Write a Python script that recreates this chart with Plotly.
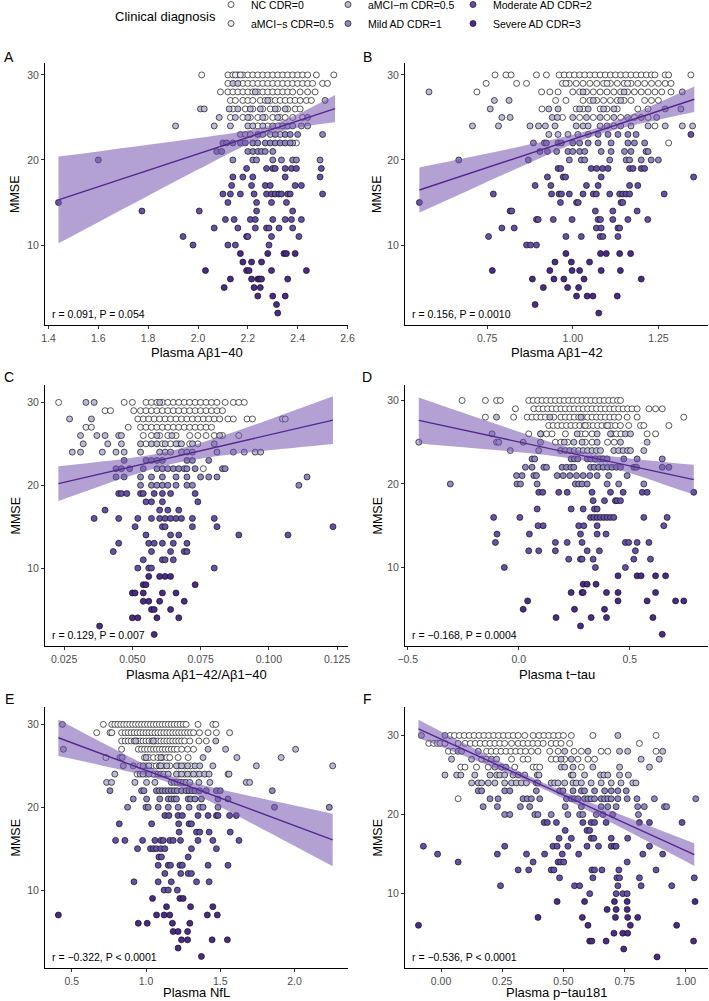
import plotly.graph_objects as go

FONT = "Liberation Sans, Arial, Helvetica, sans-serif"

GROUPS = ["NC CDR=0", "aMCI−s CDR=0.5", "aMCI−m CDR=0.5",
          "Mild AD CDR=1", "Moderate AD CDR=2", "Severe AD CDR=3"]
COLORS = ["#ffffff", "#ecebf4", "#bcbad9", "#8f86c2", "#6650a6", "#4b2a88"]
LEGEND_OF = ["legend", "legend", "legend2", "legend2", "legend3", "legend3"]

# rows: (MMSE, group index, [x values])
rows_A = [
    (30, 0, [2.015, 2.12, 2.14, 2.16, 2.18, 2.20, 2.22, 2.24, 2.26, 2.28, 2.30, 2.32, 2.34, 2.36, 2.38, 2.40, 2.42, 2.44, 2.475, 2.545]),
    (30, 1, [2.15, 2.17]),
    (29, 0, [2.12, 2.18, 2.20, 2.22, 2.24, 2.26, 2.28, 2.30, 2.32, 2.34, 2.36, 2.38, 2.40, 2.42, 2.44, 2.46, 2.50, 2.52]),
    (29, 2, [2.14, 2.16]),
    (28, 0, [2.09, 2.12, 2.14, 2.16, 2.18, 2.20, 2.22, 2.24, 2.26, 2.28, 2.30, 2.32, 2.34, 2.36, 2.38, 2.41, 2.44, 2.47]),
    (28, 2, [2.23]),
    (27, 0, [2.13, 2.15, 2.18, 2.20, 2.22, 2.25, 2.27, 2.29, 2.31, 2.33, 2.35, 2.37, 2.39, 2.41, 2.435, 2.455]),
    (27, 2, [2.51, 2.28]),
    (26, 0, [2.14, 2.19, 2.22, 2.26, 2.29, 2.32, 2.36, 2.39, 2.41]),
    (26, 2, [2.01, 2.025, 2.125, 2.16, 2.21, 2.25, 2.31, 2.35]),
    (25, 0, [2.13, 2.18, 2.21, 2.24, 2.27, 2.30, 2.33, 2.35, 2.38, 2.42]),
    (25, 2, [2.085, 2.15, 2.20, 2.26, 2.32, 2.44]),
    (24, 0, [2.24, 2.28, 2.32]),
    (24, 2, [1.91, 2.065, 2.13, 2.20, 2.22, 2.26, 2.30, 2.34, 2.36, 2.38, 2.415, 2.44]),
    (23, 2, [2.17, 2.19, 2.21, 2.26, 2.29, 2.33]),
    (23, 3, [2.24, 2.31, 2.35, 2.37, 2.40, 2.50]),
    (22, 3, [2.10, 2.115, 2.14, 2.17, 2.19, 2.22, 2.24, 2.27, 2.29, 2.31, 2.33, 2.35, 2.37]),
    (22, 0, [2.395]),
    (22, 2, [2.38]),
    (21, 3, [2.075, 2.095, 2.20, 2.22, 2.24, 2.255, 2.27, 2.30]),
    (20, 3, [1.60, 2.14, 2.22, 2.235, 2.30, 2.335, 2.38, 2.395, 2.49]),
    (19, 4, [2.195, 2.275, 2.30, 2.31, 2.35, 2.375, 2.395, 2.495]),
    (18, 4, [2.14, 2.18, 2.22, 2.35, 2.49]),
    (17, 4, [2.135, 2.215, 2.27, 2.29, 2.39, 2.415]),
    (16, 4, [2.10, 2.13, 2.17, 2.225, 2.275, 2.295, 2.31, 2.325, 2.335, 2.36, 2.37, 2.50]),
    (15, 4, [1.44, 2.12, 2.235, 2.295, 2.355]),
    (14, 4, [1.775, 2.005, 2.235, 2.38]),
    (13, 4, [2.11, 2.145, 2.21, 2.23, 2.30, 2.35, 2.375, 2.415]),
    (12, 4, [2.065, 2.16, 2.23, 2.275, 2.285, 2.325, 2.38]),
    (11, 4, [1.94, 2.195, 2.20, 2.295, 2.405]),
    (10, 4, [1.98, 2.12, 2.15, 2.285]),
    (9, 5, [2.17, 2.28, 2.345, 2.355, 2.39]),
    (8, 5, [2.18, 2.215, 2.255]),
    (7, 5, [2.03, 2.195, 2.205, 2.295, 2.435]),
    (6, 5, [2.13, 2.215, 2.24, 2.247, 2.255, 2.36]),
    (5, 5, [2.105, 2.225, 2.25]),
    (4, 5, [2.24, 2.30, 2.35]),
    (3, 5, [2.315]),
    (2, 5, [2.32]),
]

rows_B = [
    (30, 0, [0.773, 0.805, 0.82, 0.894, 0.923, 0.96, 0.975, 0.99, 1.005, 1.02, 1.035, 1.05, 1.065, 1.08, 1.095, 1.11, 1.125, 1.14, 1.155, 1.17, 1.185, 1.20, 1.215, 1.23, 1.24, 1.27, 1.28, 1.345]),
    (29, 0, [0.747, 0.836, 0.865, 0.97, 0.99, 1.01, 1.03, 1.05, 1.07, 1.09, 1.11, 1.13, 1.15, 1.17, 1.19, 1.21, 1.23, 1.25, 1.27, 1.287]),
    (29, 1, [0.98, 1.10, 1.16]),
    (28, 0, [0.72, 0.909, 0.933, 0.957, 1.0, 1.02, 1.04, 1.06, 1.08, 1.10, 1.12, 1.14, 1.16, 1.18, 1.20, 1.22, 1.24, 1.26, 1.287]),
    (28, 2, [0.58, 1.32, 1.03, 1.15]),
    (27, 0, [0.95, 0.98, 1.03, 1.05, 1.07, 1.09, 1.11, 1.13, 1.15, 1.17, 1.21, 1.23, 1.25]),
    (27, 2, [0.771, 0.814, 1.06, 1.14]),
    (26, 0, [0.91, 1.01, 1.03, 1.08, 1.10, 1.13, 1.19, 1.22]),
    (26, 2, [0.759, 0.93, 0.957, 1.02, 1.045, 1.09, 1.12, 1.27, 1.316]),
    (25, 0, [0.97, 1.02, 1.06, 1.10, 1.14, 1.18, 1.22]),
    (25, 2, [0.793, 0.817, 0.94, 0.955, 1.0, 1.04, 1.08, 1.12, 1.16, 1.20, 1.245]),
    (24, 0, [1.24, 1.12]),
    (24, 2, [0.707, 0.783, 0.875, 0.90, 0.92, 0.948, 1.01, 1.03, 1.045, 1.08, 1.10, 1.14, 1.17, 1.22, 1.27, 1.32, 1.35]),
    (23, 2, [0.93, 0.957, 0.986, 1.015, 1.045]),
    (23, 3, [1.074, 1.103, 1.132, 1.161, 1.185]),
    (23, 4, [1.345]),
    (22, 3, [0.885, 0.917, 0.923, 0.957, 0.967, 1.0, 1.02, 1.045, 1.074, 1.112, 1.161, 1.18, 1.21]),
    (22, 0, [1.28]),
    (21, 3, [0.904, 0.926, 0.953, 0.986, 1.0, 1.02, 1.035, 1.083, 1.112, 1.151, 1.17, 1.214, 1.22]),
    (20, 3, [0.667, 0.87, 0.99, 1.025, 1.035, 1.108, 1.156, 1.166, 1.20, 1.229, 1.25]),
    (19, 4, [0.957, 0.965, 1.054, 1.07, 1.087, 1.103, 1.166, 1.176, 1.20, 1.21]),
    (18, 4, [0.926, 0.972, 0.979, 1.083, 1.353]),
    (17, 4, [0.89, 0.936, 1.04, 1.074, 1.166, 1.19]),
    (16, 4, [0.768, 0.938, 0.96, 0.967, 0.99, 1.03, 1.06, 1.069, 1.108, 1.137, 1.146, 1.156, 1.166, 1.267]),
    (15, 4, [0.552, 0.964, 1.011, 1.016, 1.141, 1.146]),
    (14, 4, [0.817, 0.822, 1.066, 1.117, 1.188]),
    (13, 4, [0.894, 0.899, 0.943, 0.998, 1.074, 1.081, 1.117, 1.161, 1.219]),
    (12, 4, [0.793, 0.829, 1.069, 1.083, 1.132, 1.137]),
    (11, 4, [0.754, 0.98, 1.025, 1.08, 1.088, 1.132]),
    (10, 4, [0.865, 0.877, 0.894]),
    (9, 5, [0.98, 1.081, 1.098, 1.137, 1.169]),
    (8, 5, [0.948, 0.996, 1.049]),
    (7, 5, [0.765, 0.933, 0.998, 1.02, 1.083, 1.139]),
    (6, 5, [0.882, 0.945, 0.974, 1.033, 1.20]),
    (5, 5, [0.914, 0.985, 1.017]),
    (4, 5, [1.011, 1.042, 1.059, 1.13]),
    (3, 5, [0.89]),
    (2, 5, [1.076]),
]

rows_C = [
    (30, 0, [0.023, 0.047, 0.050, 0.055, 0.057, 0.059, 0.061, 0.063, 0.065, 0.067, 0.069, 0.071, 0.073, 0.075, 0.077, 0.079, 0.081, 0.084, 0.087, 0.089, 0.091]),
    (30, 2, [0.033, 0.036, 0.06]),
    (29, 0, [0.040, 0.042, 0.0505, 0.053, 0.055, 0.057, 0.059, 0.061, 0.063, 0.065, 0.067, 0.069, 0.071, 0.073, 0.075, 0.077, 0.079, 0.081, 0.083]),
    (28, 0, [0.052, 0.054, 0.056, 0.058, 0.060, 0.062, 0.064, 0.066, 0.068, 0.070, 0.072, 0.074, 0.076, 0.078, 0.080, 0.082, 0.085, 0.087, 0.092, 0.094, 0.105, 0.106]),
    (28, 2, [0.027, 0.035]),
    (27, 0, [0.0485, 0.053, 0.055, 0.057, 0.059, 0.061, 0.063, 0.065, 0.067, 0.069, 0.071, 0.073, 0.075, 0.077, 0.079]),
    (27, 1, [0.033, 0.035]),
    (26, 0, [0.054, 0.057, 0.060, 0.063, 0.066, 0.071, 0.074, 0.077, 0.080, 0.083, 0.089]),
    (26, 2, [0.031, 0.037, 0.040, 0.045, 0.046, 0.059, 0.0645, 0.082]),
    (25, 0, [0.055, 0.061, 0.064, 0.067, 0.071, 0.074]),
    (25, 2, [0.032, 0.041, 0.046, 0.053, 0.057, 0.059, 0.062, 0.066, 0.068, 0.072, 0.080]),
    (24, 2, [0.028, 0.031, 0.039, 0.044, 0.047, 0.053, 0.060, 0.062, 0.064, 0.068, 0.070, 0.072, 0.081, 0.087, 0.091, 0.095, 0.097]),
    (23, 3, [0.047, 0.055, 0.057, 0.059, 0.061, 0.070, 0.072, 0.078]),
    (22, 3, [0.044, 0.046, 0.049, 0.054, 0.059, 0.061, 0.063, 0.065, 0.067, 0.069, 0.070, 0.073, 0.083, 0.084]),
    (22, 0, [0.076]),
    (21, 3, [0.044, 0.047, 0.053, 0.057, 0.061, 0.066, 0.070, 0.075, 0.078, 0.081, 0.114]),
    (20, 3, [0.053, 0.057, 0.059, 0.061, 0.063, 0.066, 0.070, 0.072, 0.111]),
    (19, 4, [0.045, 0.046, 0.048, 0.053, 0.054, 0.058, 0.061, 0.064, 0.073]),
    (18, 4, [0.055, 0.057, 0.061, 0.074]),
    (17, 4, [0.040, 0.060, 0.063, 0.067]),
    (16, 4, [0.036, 0.045, 0.052, 0.057, 0.060, 0.062, 0.064, 0.066, 0.068, 0.072, 0.080]),
    (15, 4, [0.051, 0.061, 0.062, 0.072, 0.081, 0.1235]),
    (14, 4, [0.055, 0.064, 0.067, 0.089, 0.107]),
    (13, 4, [0.045, 0.056, 0.058, 0.061, 0.065, 0.070]),
    (12, 4, [0.043, 0.057, 0.064, 0.069, 0.070]),
    (11, 4, [0.054, 0.061, 0.062, 0.065]),
    (10, 4, [0.052, 0.056, 0.057, 0.080]),
    (9, 5, [0.056, 0.060, 0.062, 0.064]),
    (8, 5, [0.054, 0.055, 0.073]),
    (7, 5, [0.050, 0.051, 0.054, 0.061, 0.066]),
    (6, 5, [0.054, 0.056, 0.060, 0.069]),
    (5, 5, [0.057, 0.058, 0.064]),
    (4, 5, [0.050, 0.052, 0.059, 0.067]),
    (3, 5, [0.038]),
    (2, 5, [0.058]),
]

rows_D = [
    (30, 0, [-0.255, -0.15, -0.10, -0.083, 0.045, 0.065, 0.085, 0.105, 0.125, 0.145, 0.165, 0.185, 0.205, 0.225, 0.245, 0.265, 0.285, 0.305, 0.325, 0.345, 0.365, 0.385, 0.405, 0.425, 0.445, 0.458]),
    (29, 0, [-0.015, 0.068, 0.09, 0.11, 0.13, 0.15, 0.17, 0.19, 0.21, 0.23, 0.25, 0.27, 0.29, 0.31, 0.33, 0.35, 0.37, 0.39, 0.41, 0.43, 0.45, 0.47, 0.49, 0.51, 0.533, 0.586, 0.616, 0.646]),
    (28, 0, [-0.15, -0.023, 0.038, 0.06, 0.08, 0.10, 0.12, 0.158, 0.19, 0.21, 0.23, 0.25, 0.27, 0.29, 0.31, 0.33, 0.35, 0.37, 0.39, 0.41, 0.43, 0.45, 0.488, 0.533, 0.743]),
    (28, 2, [-0.10, 0.14, 0.28]),
    (27, 0, [0.135, 0.155, 0.175, 0.195, 0.215, 0.235, 0.255, 0.275, 0.295, 0.315, 0.335, 0.355, 0.375, 0.395, 0.415, 0.435, 0.458, 0.495, 0.548, 0.563, 0.676]),
    (27, 1, [0.30, 0.40]),
    (26, 0, [0.045, 0.10, 0.125, 0.15, 0.21, 0.28, 0.30, 0.33, 0.42, 0.44, 0.46, 0.578, 0.616]),
    (26, 2, [-0.12, 0.098, 0.263, 0.353, 0.413, 0.48, 0.503]),
    (25, 0, [0.165, 0.19, 0.22, 0.30, 0.33, 0.40, 0.43]),
    (25, 2, [-0.45, -0.10, -0.09, 0.02, 0.098, 0.205, 0.248, 0.285, 0.353, 0.458, 0.578]),
    (24, 2, [-0.038, 0.09, 0.188, 0.21, 0.23, 0.25, 0.27, 0.29, 0.31, 0.33, 0.35, 0.368, 0.428, 0.45, 0.47, 0.49, 0.503, 0.563]),
    (23, 3, [0.06, 0.072, 0.236, 0.251, 0.266, 0.308, 0.325, 0.345, 0.365, 0.38, 0.398, 0.473, 0.533, 0.646]),
    (22, 3, [0.03, 0.06, 0.113, 0.125, 0.195, 0.215, 0.235, 0.248, 0.323, 0.34, 0.36, 0.38, 0.40, 0.42, 0.44, 0.458, 0.518, 0.53, 0.646, 0.676]),
    (21, 3, [-0.01, 0.015, 0.068, 0.08, 0.173, 0.20, 0.23, 0.26, 0.29, 0.32, 0.353, 0.405, 0.488]),
    (20, 3, [-0.308, -0.008, 0.008, 0.083, 0.255, 0.27, 0.285, 0.308, 0.398, 0.45, 0.563]),
    (19, 4, [0.09, 0.108, 0.18, 0.218, 0.33, 0.413, 0.47, 0.556, 0.578, 0.788]),
    (18, 4, [0.335, 0.386, 0.435, 0.443, 0.458]),
    (17, 4, [0.083, 0.236, 0.29, 0.341, 0.353]),
    (16, 4, [-0.113, 0.005, 0.323, 0.338, 0.353, 0.368, 0.383, 0.398, 0.413, 0.428, 0.563, 0.668]),
    (15, 4, [0.087, 0.11, 0.27, 0.293, 0.353, 0.653]),
    (14, 4, [-0.098, 0.048, 0.278, 0.353, 0.393]),
    (13, 4, [-0.105, 0.165, 0.218, 0.285, 0.48, 0.495, 0.533, 0.586]),
    (12, 4, [0.045, 0.09, 0.165, 0.308, 0.363, 0.525]),
    (11, 4, [0.225, 0.278, 0.285, 0.335, 0.518, 0.593]),
    (10, 4, [-0.065, 0.345, 0.48]),
    (9, 5, [0.447, 0.533, 0.551, 0.616, 0.661]),
    (8, 5, [0.29, 0.308, 0.348]),
    (7, 5, [0.236, 0.285, 0.29, 0.395, 0.447, 0.616]),
    (6, 5, [0.04, 0.447, 0.578, 0.706, 0.743]),
    (5, 5, [0.02, 0.251, 0.386]),
    (4, 5, [0.168, 0.326, 0.395, 0.604]),
    (3, 5, [0.278]),
    (2, 5, [0.646]),
]

rows_E = [
    (30, 0, [0.713, 0.77, 0.79, 0.81, 0.83, 0.85, 0.87, 0.89, 0.91, 0.93, 0.95, 0.97, 0.99, 1.01, 1.03, 1.05, 1.07, 1.09, 1.11, 1.13, 1.15, 1.17, 1.19, 1.21, 1.23, 1.25, 1.27, 1.35, 1.45, 1.47]),
    (30, 2, [0.437]),
    (29, 0, [0.668, 0.836, 0.86, 0.88, 0.90, 0.92, 0.94, 0.96, 0.98, 1.00, 1.02, 1.04, 1.06, 1.08, 1.10, 1.12, 1.14, 1.16, 1.18, 1.20, 1.22, 1.24, 1.26, 1.28, 1.30, 1.32, 1.36, 1.418, 1.474]),
    (29, 1, [0.758, 0.77, 1.563]),
    (28, 0, [0.836, 0.86, 0.88, 0.90, 0.92, 0.94, 0.96, 0.98, 1.00, 1.02, 1.04, 1.06, 1.08, 1.10, 1.12, 1.14, 1.16, 1.18, 1.20, 1.22, 1.24, 1.26, 1.295, 1.356, 1.406]),
    (28, 2, [0.93, 1.05, 1.47]),
    (27, 0, [0.836, 0.948, 0.97, 0.99, 1.01, 1.03, 1.05, 1.07, 1.09, 1.11, 1.13, 1.15, 1.17, 1.19, 1.21, 1.24, 1.28, 1.32]),
    (27, 2, [0.444, 1.418, 1.536, 2.007]),
    (26, 0, [0.73, 0.99, 1.02, 1.05, 1.08, 1.11, 1.14, 1.16, 1.216, 1.284]),
    (26, 2, [0.825, 0.84, 1.00, 1.10, 1.384, 1.612, 1.91]),
    (25, 0, [0.96, 1.00, 1.04, 1.07, 1.12, 1.16, 1.22, 1.26, 1.30]),
    (25, 2, [0.847, 0.914, 0.98, 1.02, 1.09, 1.10, 1.14, 1.205, 1.24, 1.28, 1.33, 1.362, 1.45, 1.743, 2.257]),
    (24, 0, [0.94, 1.00, 1.05, 1.22, 1.26, 1.30, 1.34, 1.552]),
    (24, 2, [0.79, 0.96, 0.98, 1.02, 1.08, 1.10, 1.12, 1.15, 1.205, 1.24, 1.28, 1.32, 1.36, 1.395, 1.425, 1.559]),
    (23, 2, [0.735, 0.768, 0.925, 1.004, 1.06, 1.17, 1.19, 1.21, 1.23, 1.25, 1.27, 1.295, 1.356, 1.43, 1.675, 1.698]),
    (22, 3, [0.757, 0.97, 0.986, 1.07, 1.09, 1.11, 1.13, 1.15, 1.17, 1.19, 1.21, 1.24, 1.27, 1.29, 1.31, 1.33, 1.36, 1.406, 1.474, 1.50, 1.85]),
    (21, 3, [0.914, 1.004, 1.093, 1.15, 1.17, 1.19, 1.205, 1.284, 1.30, 1.33, 1.373, 1.485, 1.552]),
    (20, 3, [0.876, 1.0, 1.015, 1.082, 1.15, 1.216, 1.29, 1.362, 1.384, 1.485, 1.865, 2.234]),
    (19, 4, [1.127, 1.154, 1.216, 1.245, 1.35, 1.418, 1.474, 1.485, 1.563, 1.608]),
    (18, 4, [0.82, 1.038, 1.22, 1.29, 1.306]),
    (17, 4, [1.223, 1.34, 1.362, 1.425, 1.567]),
    (16, 4, [0.795, 0.858, 0.977, 1.06, 1.10, 1.116, 1.16, 1.183, 1.232, 1.35, 1.45, 1.626]),
    (15, 4, [0.943, 1.03, 1.05, 1.07, 1.10, 1.127, 1.306, 1.474]),
    (14, 4, [1.087, 1.104, 1.284]),
    (13, 4, [1.082, 1.15, 1.165, 1.228, 1.245, 1.418, 1.552]),
    (12, 4, [1.127, 1.234, 1.284, 1.306]),
    (11, 4, [0.919, 1.082, 1.17, 1.34, 1.425]),
    (10, 4, [1.122, 1.15, 1.211]),
    (9, 5, [1.044, 1.228, 1.25]),
    (8, 5, [1.138, 1.30, 1.45]),
    (7, 5, [0.41, 1.071, 1.122, 1.16, 1.413, 1.48]),
    (6, 5, [0.948, 1.008, 1.178, 1.295]),
    (5, 5, [1.183, 1.216, 1.28]),
    (4, 5, [1.239, 1.28, 1.445, 1.548]),
    (3, 5, [1.216]),
    (2, 5, [1.373]),
]

rows_F = [
    (30, 0, [0.037, 0.055, 0.075, 0.095, 0.115, 0.135, 0.155, 0.175, 0.195, 0.215, 0.235, 0.255, 0.275, 0.295, 0.315, 0.342, 0.376, 0.40, 0.42, 0.44, 0.46, 0.48, 0.50, 0.532, 0.62, 0.878]),
    (30, 2, [-0.08, 0.016, 0.722]),
    (29, 0, [-0.05, -0.03, -0.015, 0.07, 0.098, 0.12, 0.14, 0.16, 0.18, 0.20, 0.22, 0.24, 0.26, 0.288, 0.315, 0.335, 0.355, 0.375, 0.395, 0.417, 0.45, 0.47, 0.49, 0.525, 0.81]),
    (29, 1, [-0.004, 0.016]),
    (28, 0, [0.03, 0.05, 0.186, 0.205, 0.225, 0.245, 0.265, 0.285, 0.305, 0.325, 0.345, 0.369, 0.396, 0.444, 0.478, 0.543, 0.573, 0.654, 0.681, 0.878]),
    (28, 2, [0.07, 0.084, 0.152, 0.505, 0.60, 0.729, 0.762, 0.905]),
    (27, 0, [0.166, 0.186, 0.288, 0.335, 0.355, 0.45, 0.47, 0.505, 0.559, 0.60, 0.627]),
    (27, 2, [0.043, 0.125, 0.206, 0.227, 0.49, 0.532, 0.817, 0.891]),
    (26, 0, [0.081, 0.098, 0.145, 0.193, 0.301, 0.376, 0.39, 0.403, 0.573]),
    (26, 2, [0.22, 0.247, 0.265, 0.491, 0.505, 0.539, 0.62, 0.729, 0.851]),
    (25, 2, [0.016, 0.064, 0.081, 0.138, 0.20, 0.227, 0.24, 0.26, 0.294, 0.315, 0.342, 0.393, 0.40, 0.532, 0.539, 0.586, 0.651, 0.665, 0.681, 0.729, 0.765]),
    (24, 2, [0.125, 0.152, 0.166, 0.193, 0.22, 0.26, 0.288, 0.308, 0.328, 0.349, 0.389, 0.396, 0.45, 0.464, 0.478, 0.505, 0.539, 0.552, 0.573, 0.613, 0.654, 0.695, 0.735, 0.783, 0.796]),
    (23, 3, [0.152, 0.166, 0.26, 0.281, 0.389, 0.484, 0.498, 0.539, 0.573, 0.586, 0.627, 0.668, 0.695, 0.722, 0.756]),
    (22, 3, [0.2, 0.233, 0.335, 0.352, 0.369, 0.403, 0.512, 0.532, 0.545, 0.559, 0.586, 0.60, 0.613, 0.627, 0.654, 0.668, 0.681, 0.695, 0.722, 0.76, 0.80, 0.871, 1.04]),
    (22, 0, [0.07]),
    (21, 3, [0.172, 0.23, 0.324, 0.362, 0.507, 0.573, 0.654, 0.681, 0.715, 0.803, 0.83, 0.912, 0.921]),
    (20, 3, [0.26, 0.281, 0.383, 0.396, 0.45, 0.518, 0.566, 0.579, 0.634, 0.661, 0.701, 0.806]),
    (19, 4, [0.421, 0.434, 0.471, 0.579, 0.613, 0.627, 0.674, 0.81, 0.851, 0.984]),
    (18, 4, [0.507, 0.596, 0.607]),
    (17, 4, [0.482, 0.532, 0.613, 0.624, 0.695, 0.762]),
    (16, 4, [-0.072, 0.26, 0.457, 0.474, 0.518, 0.596, 0.643, 0.695, 0.708, 0.715, 0.851]),
    (15, 4, [-0.014, 0.23, 0.349, 0.423, 0.495, 0.562, 0.824, 0.905]),
    (14, 4, [0.07, 0.376, 0.478, 0.488, 0.501, 0.76]),
    (13, 4, [0.315, 0.358, 0.45, 0.461, 0.616, 0.627, 0.657, 0.726, 0.878]),
    (12, 4, [0.484, 0.62, 0.718, 0.729, 0.81, 1.034]),
    (11, 4, [0.243, 0.545, 0.566, 0.722, 0.817, 0.942]),
    (10, 4, [0.607, 0.715, 0.742, 0.76]),
    (9, 5, [0.474, 0.586, 0.708, 0.76, 1.037]),
    (8, 5, [0.678, 0.715, 0.76]),
    (7, 5, [0.396, 0.577, 0.712, 0.762, 0.803]),
    (6, 5, [-0.092, 0.60, 0.773, 0.962]),
    (5, 5, [0.706, 0.742, 0.762]),
    (4, 5, [0.607, 0.616, 0.674, 1.031]),
    (3, 5, [0.746]),
    (2, 5, [0.882]),
]

# fitted regression line and 95% CI band
fit_x_A = [1.44, 1.6, 1.8, 2.0, 2.2, 2.3, 2.4, 2.55]
fit_y_A = [15.3, 16.85, 18.78, 20.72, 22.66, 23.62, 24.59, 26.04]
ci_lo_A = [10.2, 12.69, 15.78, 18.87, 21.86, 23.07, 23.79, 24.44]
ci_hi_A = [20.4, 21.01, 21.78, 22.57, 23.46, 24.17, 25.39, 27.64]

fit_x_B = [0.552, 0.7, 0.85, 1.0, 1.07, 1.15, 1.25, 1.355]
fit_y_B = [16.47, 18.43, 20.43, 22.42, 23.35, 24.41, 25.74, 27.14]
ci_lo_B = [13.82, 16.51, 19.24, 21.87, 22.93, 23.82, 24.74, 25.64]
ci_hi_B = [19.12, 20.35, 21.62, 22.97, 23.77, 25.0, 26.74, 28.64]

fit_x_C = [0.0229, 0.035, 0.05, 0.0644, 0.08, 0.1, 0.1235]
fit_y_C = [20.2, 21.12, 22.26, 23.36, 24.55, 26.07, 27.86]
ci_lo_C = [18.1, 19.53, 21.21, 22.56, 23.47, 24.22, 24.98]
ci_hi_C = [22.3, 22.71, 23.31, 24.16, 25.63, 27.92, 30.74]

fit_x_D = [-0.45, -0.25, 0.0, 0.15, 0.308, 0.5, 0.65, 0.788]
fit_y_D = [27.61, 26.46, 25.03, 24.17, 23.26, 22.17, 21.31, 20.52]
ci_lo_D = [24.86, 24.4, 23.81, 23.39, 22.71, 21.3, 19.98, 18.73]
ci_hi_D = [30.36, 28.52, 26.25, 24.95, 23.81, 23.04, 22.64, 22.31]

fit_x_E = [0.41, 0.7, 1.0, 1.164, 1.4, 1.7, 2.0, 2.257]
fit_y_E = [28.39, 26.45, 24.45, 23.35, 21.78, 19.77, 17.77, 16.06]
ci_lo_E = [26.18, 25.05, 23.8, 22.9, 20.97, 18.17, 15.33, 12.89]
ci_hi_E = [30.6, 27.85, 25.1, 23.8, 22.59, 21.37, 20.21, 19.23]

fit_x_F = [-0.092, 0.1, 0.25, 0.407, 0.55, 0.75, 1.034]
fit_y_F = [30.84, 28.13, 26.01, 23.79, 21.77, 18.95, 14.94]
ci_lo_F = [29.68, 27.35, 25.48, 23.39, 21.26, 18.1, 13.51]
ci_hi_F = [32.0, 28.91, 26.54, 24.19, 22.28, 19.8, 16.37]

x_titles = ["Plasma Aβ1−40", "Plasma Aβ1−42", "Plasma Aβ1−42/Aβ1−40",
            "Plasma t−tau", "Plasma NfL", "Plasma p−tau181"]
stats = ["r = 0.091, P = 0.054", "r = 0.156, P = 0.0010", "r = 0.129, P = 0.007",
         "r = −0.168, P = 0.0004", "r = −0.322, P < 0.0001", "r = −0.536, P < 0.0001"]
letters = ["A", "B", "C", "D", "E", "F"]

xtick_A = [1.4, 1.6, 1.8, 2.0, 2.2, 2.4, 2.6]
xlab_A = ["1.4", "1.6", "1.8", "2.0", "2.2", "2.4", "2.6"]
xtick_B = [0.75, 1.00, 1.25]
xlab_B = ["0.75", "1.00", "1.25"]
xtick_C = [0.025, 0.05, 0.075, 0.1, 0.125]
xlab_C = ["0.025", "0.050", "0.075", "0.100", "0.125"]
xtick_D = [-0.5, 0.0, 0.5]
xlab_D = ["−0.5", "0.0", "0.5"]
xtick_E = [0.5, 1.0, 1.5, 2.0]
xlab_E = ["0.5", "1.0", "1.5", "2.0"]
xtick_F = [0.0, 0.25, 0.5, 0.75, 1.0]
xlab_F = ["0.00", "0.25", "0.50", "0.75", "1.00"]
ytick = [10, 20, 30]

xrange_ = [[1.386, 2.602], [0.51, 1.395], [0.018, 0.129],
           [-0.512, 0.852], [0.32, 2.36], [-0.147, 1.09]]
yrange_ = [[0.6, 31.4], [0.6, 31.4], [0.6, 32.1],
           [0.6, 31.85], [0.6, 32.1], [0.6, 33.6]]

panels = [
    (rows_A, fit_x_A, fit_y_A, ci_lo_A, ci_hi_A, xtick_A, xlab_A),
    (rows_B, fit_x_B, fit_y_B, ci_lo_B, ci_hi_B, xtick_B, xlab_B),
    (rows_C, fit_x_C, fit_y_C, ci_lo_C, ci_hi_C, xtick_C, xlab_C),
    (rows_D, fit_x_D, fit_y_D, ci_lo_D, ci_hi_D, xtick_D, xlab_D),
    (rows_E, fit_x_E, fit_y_E, ci_lo_E, ci_hi_E, xtick_E, xlab_E),
    (rows_F, fit_x_F, fit_y_F, ci_lo_F, ci_hi_F, xtick_F, xlab_F),
]

W, H = 709, 1001
col_px = [(45, 348), (405, 708)]
row_px = [(63, 325), (385, 646), (707, 968)]
xtitle_px = [353, 674, 992]
letter_px = [(9, 57), (367, 57), (9, 377), (367, 377), (9, 699), (367, 699)]
mmse_x_px = [15, 377]

fig = go.Figure()
layout = {}
annotations = []

for i, (rows, fx, fy, lo, hi, xt, xl) in enumerate(panels):
    r, c = divmod(i, 2)
    sfx = "" if i == 0 else str(i + 1)
    xa, ya = "x" + sfx, "y" + sfx
    for g in range(6):
        xs, ys = [], []
        for (m, gg, vals) in rows:
            if gg == g:
                xs.extend(vals)
                ys.extend([m] * len(vals))
        fig.add_trace(go.Scatter(
            x=xs, y=ys, mode="markers", name=GROUPS[g],
            legend=LEGEND_OF[g], showlegend=(i == 0),
            marker=dict(size=6, color=COLORS[g], line=dict(color="#111111", width=0.7)),
            xaxis=xa, yaxis=ya, hoverinfo="skip"))
    fig.add_trace(go.Scatter(x=fx, y=lo, mode="lines", line=dict(width=0, shape="spline"),
                             showlegend=False, xaxis=xa, yaxis=ya, hoverinfo="skip"))
    fig.add_trace(go.Scatter(x=fx, y=hi, mode="lines", line=dict(width=0, shape="spline"),
                             fill="tonexty", fillcolor="rgba(117,84,176,0.55)",
                             showlegend=False, xaxis=xa, yaxis=ya, hoverinfo="skip"))
    fig.add_trace(go.Scatter(x=[fx[0], fx[-1]], y=[fy[0], fy[-1]], mode="lines",
                             line=dict(color="#54278f", width=1.4),
                             showlegend=False, xaxis=xa, yaxis=ya, hoverinfo="skip"))

    x0, x1 = col_px[c]
    y0, y1 = row_px[r]
    common = dict(showline=True, linecolor="black", linewidth=1, ticks="outside",
                  ticklen=3, tickwidth=1, tickcolor="#333333",
                  tickfont=dict(size=10.5, color="#4d4d4d", family=FONT),
                  showgrid=False, zeroline=False, fixedrange=True)
    layout["xaxis" + sfx] = dict(domain=[x0 / W, x1 / W], range=xrange_[i],
                                 tickvals=xt, ticktext=xl, anchor=ya, **common)
    layout["yaxis" + sfx] = dict(domain=[1 - y1 / H, 1 - y0 / H], range=yrange_[i],
                                 tickvals=ytick, ticktext=[str(v) for v in ytick],
                                 anchor=xa, **common)

    annotations.append(dict(text=x_titles[i], x=(x0 + x1) / 2 / W, y=1 - xtitle_px[r] / H,
                            xref="paper", yref="paper", showarrow=False,
                            font=dict(size=13, color="black", family=FONT),
                            xanchor="center", yanchor="middle"))
    annotations.append(dict(text="MMSE", x=mmse_x_px[c] / W, y=1 - (y0 + y1) / 2 / H,
                            xref="paper", yref="paper", showarrow=False, textangle=-90,
                            font=dict(size=12.5, color="black", family=FONT),
                            xanchor="center", yanchor="middle"))
    annotations.append(dict(text=stats[i], x=0.016, y=0.042,
                            xref=xa + " domain", yref=ya + " domain", showarrow=False,
                            font=dict(size=10.5, color="black", family=FONT),
                            xanchor="left", yanchor="middle"))
    lx, ly = letter_px[i]
    annotations.append(dict(text=letters[i], x=lx / W, y=1 - ly / H,
                            xref="paper", yref="paper", showarrow=False,
                            font=dict(size=14, color="black", family=FONT),
                            xanchor="center", yanchor="middle"))

annotations.append(dict(text="Clinical diagnosis", x=165 / W, y=1 - 16 / H,
                        xref="paper", yref="paper", showarrow=False,
                        font=dict(size=13, color="black", family=FONT),
                        xanchor="center", yanchor="middle"))

leg_common = dict(orientation="v", yanchor="top", y=1.0 + 10 / H, xanchor="left",
                  font=dict(size=10.5, color="black", family=FONT),
                  bgcolor="rgba(0,0,0,0)", borderwidth=0, tracegroupgap=0,
                  itemwidth=30, traceorder="normal")
layout["legend"] = dict(x=211 / W, **leg_common)
layout["legend2"] = dict(x=328 / W, **leg_common)
layout["legend3"] = dict(x=453 / W, **leg_common)

fig.update_layout(width=W, height=H,
                  margin=dict(l=0, r=0, t=0, b=0, autoexpand=False),
                  paper_bgcolor="white", plot_bgcolor="white",
                  font=dict(family=FONT, color="black"),
                  annotations=annotations, **layout)

fig.write_html("out.html",
               config={"displayModeBar": False, "staticPlot": True},
               post_script="document.body.style.margin='0px';document.body.style.overflow='hidden';")
